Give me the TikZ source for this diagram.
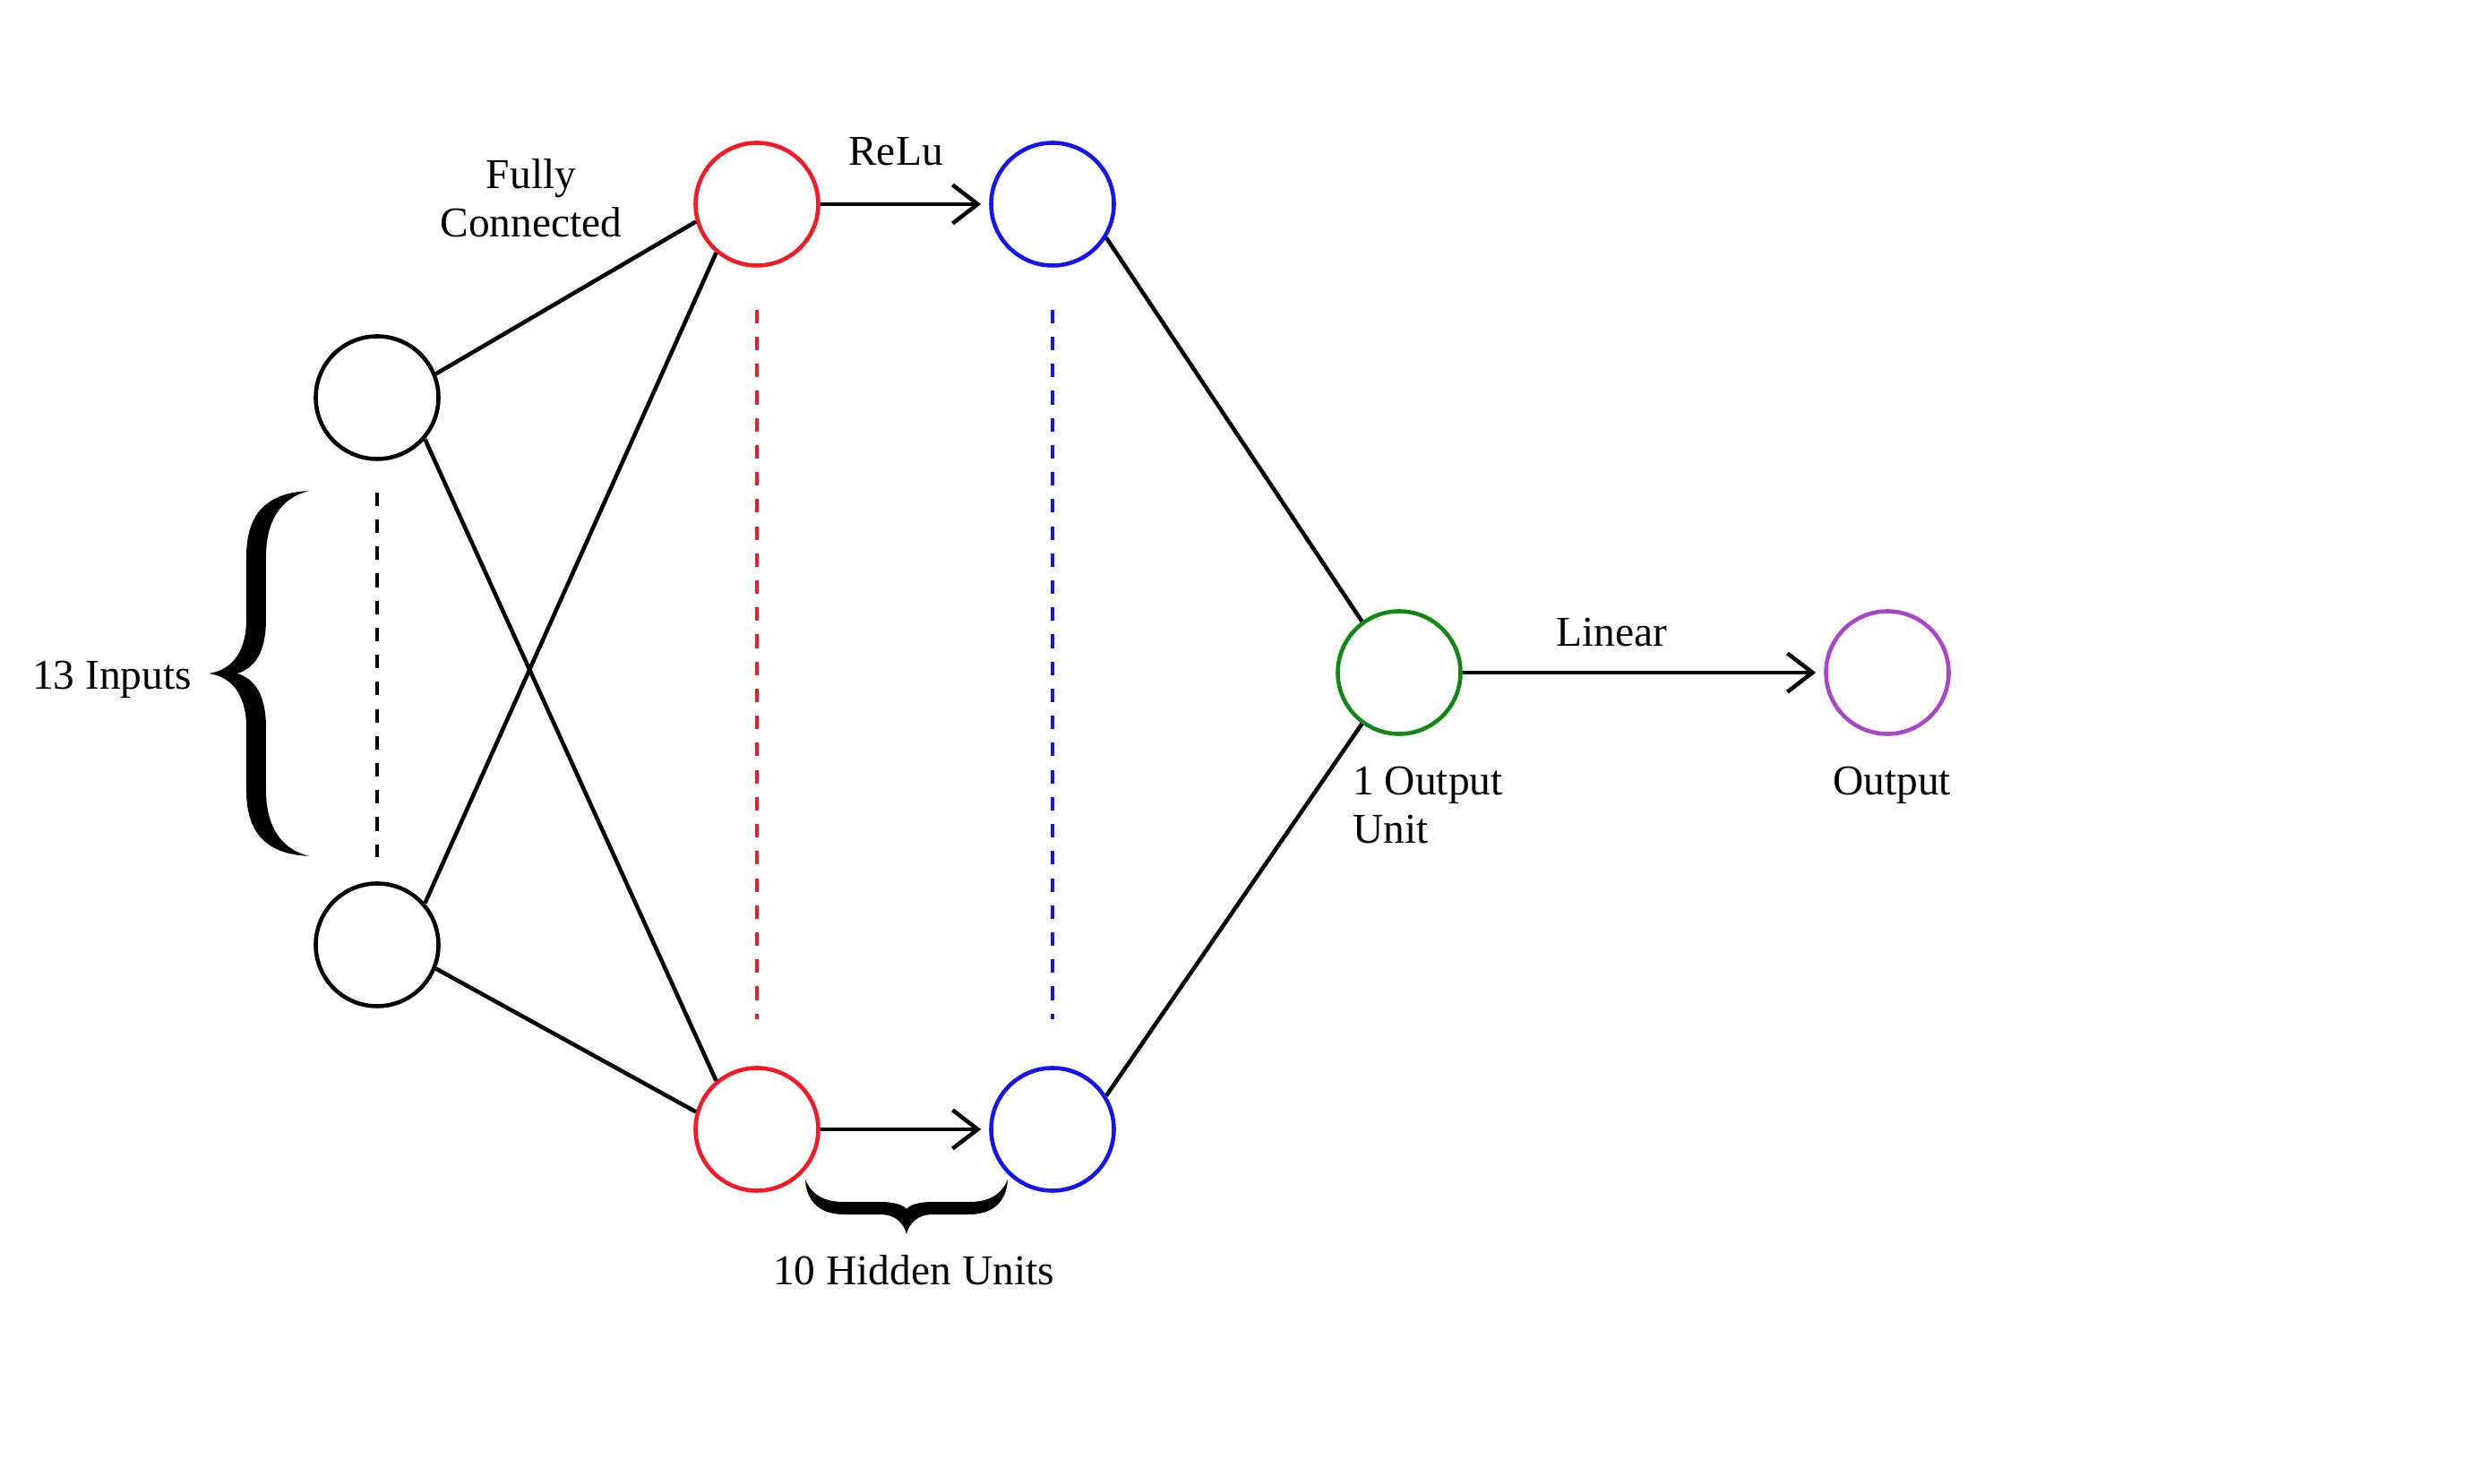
\documentclass[tikz,border=0pt]{standalone}
\usepackage{fontspec}
\setmainfont{Liberation Serif}
\usetikzlibrary{arrows.meta}
\definecolor{hidred}{RGB}{245,25,35}
\definecolor{actblue}{RGB}{20,20,240}
\definecolor{outgreen}{RGB}{17,136,17}
\definecolor{respurple}{RGB}{170,68,204}

\begin{document}
\begin{tikzpicture}[>={Straight Barb[length=2.8mm,width=4.3mm]}, line width=1.3pt, font=\fontsize{13.5}{15.4}\selectfont,
    neuron/.style={draw, circle, minimum size=1.37cm, inner sep=0pt},
    lbl/.style={inner sep=0pt},
    gapdash/.style={dash pattern=on 4.3pt off 4.3pt, line width=1.1pt}]
  \useasboundingbox (0,0) rectangle (27.53,16.57);

  % neurons
  \node[neuron] (in1) at (4.21,12.13) {};
  \node[neuron] (in2) at (4.21,6.02) {};
  \node[neuron, hidred] (h1) at (8.45,14.29) {};
  \node[neuron, hidred] (h2) at (8.45,3.96) {};
  \node[neuron, actblue] (a1) at (11.75,14.29) {};
  \node[neuron, actblue] (a2) at (11.75,3.96) {};
  \node[neuron, outgreen] (out) at (15.62,9.06) {};
  \node[neuron, respurple] (res) at (21.07,9.06) {};

  % connections
  \draw (in1.22) -- (h1.196);
  \draw (in1.319) -- (h2.130);
  \draw (in2.41) -- (h1.230);
  \draw (in2.338) -- (h2.164);
  \draw (a1.328) -- (out.126);
  \draw (a2.32) -- (out.234);
  \draw[->, shorten >=0.09cm] (h1) -- (a1);
  \draw[->, shorten >=0.09cm] (h2) -- (a2);
  \draw[->, shorten >=0.09cm] (out) -- (res);

  % dots for the hidden rows
  \draw[gapdash, shorten <=0.35cm, shorten >=0.27cm] (in1) -- (in2);
  \draw[gapdash, hidred, shorten <=0.47cm, shorten >=0.52cm] (h1) -- (h2);
  \draw[gapdash, actblue, shorten <=0.47cm, shorten >=0.52cm] (a1) -- (a2);

  % braces
  \fill[shift={(2.33,9.05)}, x=0.01cm, y=0.01cm] (112,204) .. controls (66,202) and (42,180) .. (42,130) -- (42,60) .. controls (42,20) and (22,3) .. (0,0) .. controls (22,-3) and (42,-20) .. (42,-60) -- (42,-130) .. controls (42,-180) and (66,-202) .. (112,-204) .. controls (80,-196) and (64,-170) .. (64,-130) -- (64,-60) .. controls (64,-25) and (52,-6) .. (32,0) .. controls (52,6) and (64,25) .. (64,60) -- (64,130) .. controls (64,170) and (80,196) .. (112,204) -- cycle;
  \fill[shift={(10.12,2.79)}, x=0.01cm, y=0.01cm] (-113,61) .. controls (-112,35) and (-95,22) .. (-70,22) -- (-30,22) .. controls (-12,22) and (-3,12) .. (0,0) .. controls (3,12) and (12,22) .. (30,22) -- (70,22) .. controls (95,22) and (112,35) .. (113,61) .. controls (106,44) and (92,36) .. (70,36) -- (30,36) .. controls (12,36) and (3,32) .. (0,28) .. controls (-3,32) and (-12,36) .. (-30,36) -- (-70,36) .. controls (-92,36) and (-106,44) .. (-113,61) -- cycle;

  % labels
  \node[lbl, anchor=base] (inlbl) at (1.25,8.87) {13 Inputs};
  \node[lbl, align=center] (fclbl) at (5.93,14.36) {Fully\\Connected};
  \node[lbl, anchor=base] (relulbl) at (10.00,14.72) {ReLu};
  \node[lbl, anchor=base] (hidlbl) at (10.20,2.22) {10 Hidden Units};
  \node[lbl, anchor=base] (linlbl) at (17.99,9.35) {Linear};
  \node[lbl, align=left, anchor=west] (unitlbl) at (15.08,7.58) {1 Output\\Unit};
  \node[lbl, anchor=base] (reslbl) at (21.12,7.69) {Output};
\end{tikzpicture}
\end{document}
